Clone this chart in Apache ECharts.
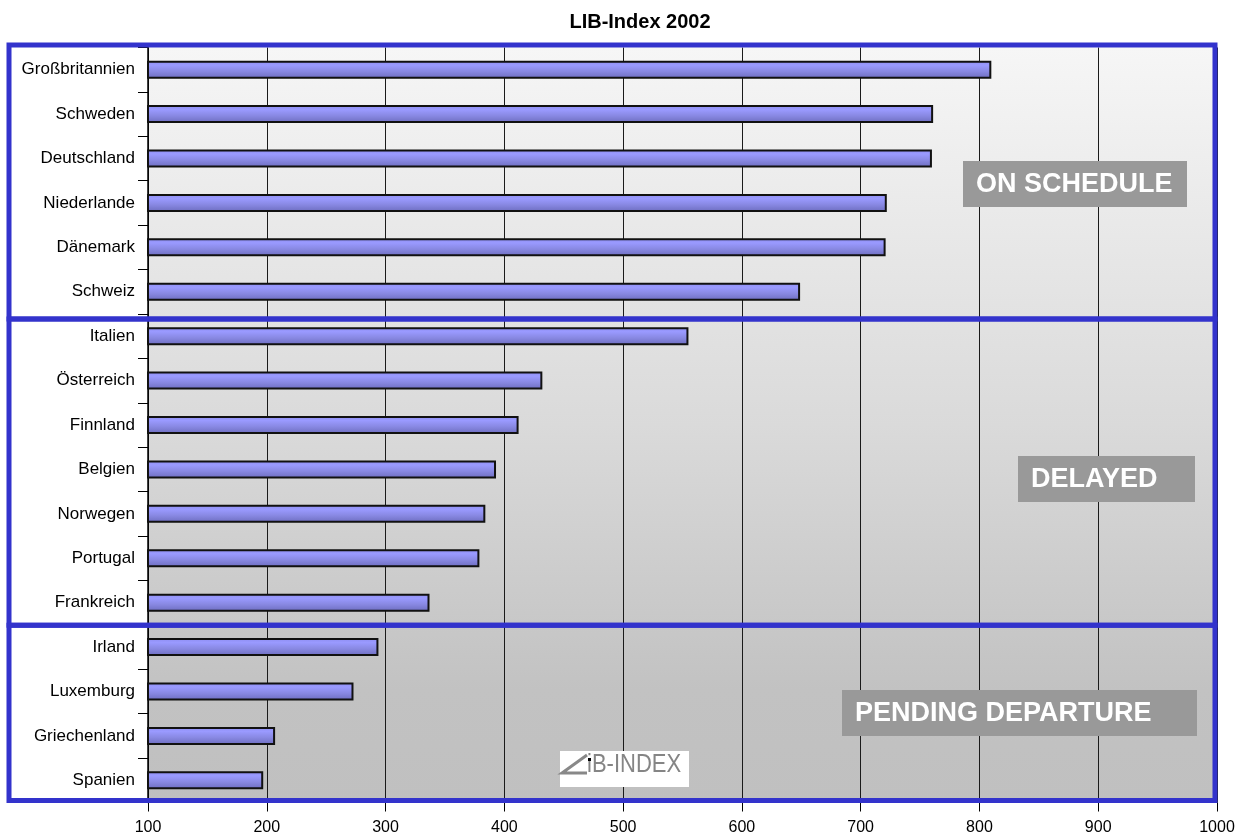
<!DOCTYPE html>
<html><head><meta charset="utf-8">
<script src="https://cdn.jsdelivr.net/npm/echarts@6/dist/echarts.min.js"></script>
<style>html,body{margin:0;padding:0;background:#fff}#c{width:1250px;height:839px}</style>
</head><body><div id="c"></div>
<script>
const categories = ['Großbritannien','Schweden','Deutschland','Niederlande','Dänemark','Schweiz','Italien','Österreich','Finnland','Belgien','Norwegen','Portugal','Frankreich','Irland','Luxemburg','Griechenland','Spanien'];
const libIndex = [810,761,760,722,721,649,555,432,412,393,384,379,337,294,273,207,197];
const groupLabels = ['ON SCHEDULE','DELAYED','PENDING DEPARTURE'];
const groupLastIndex = [5,12,16];
const axisMin = 100, axisMax = 1000, axisStep = 100;
const titleText = 'LIB-Index 2002';
const logoText = 'iB-INDEX';

const FONT = '"Liberation Sans", Arial, sans-serif';
const chart = echarts.init(document.getElementById('c'), null, {renderer:'canvas'});

const option = {
  animation: false,
  backgroundColor: '#ffffff',
  title: {
    text: titleText, left: 635, top: 7, textAlign: 'center',
    textStyle: {fontFamily: FONT, fontWeight: 'bold', fontSize: 20, color: '#000'}
  },
  grid: {
    left: 148, right: 33, top: 47.5, bottom: 36.5,
    containLabel: false, outerBoundsMode: 'none',
    show: true, borderWidth: 0,
    backgroundColor: new echarts.graphic.LinearGradient(0,0,0,1,[
      {offset:0, color:'#f6f6f6'},{offset:0.5, color:'#dadada'},{offset:0.85, color:'#c2c2c2'},{offset:1, color:'#c0c0c0'}])
  },
  xAxis: {
    type: 'value', min: axisMin, max: axisMax, interval: axisStep,
    axisLine: {show: true, lineStyle: {color: '#000', width: 1}},
    axisTick: {show: true, length: 9, lineStyle: {color: '#000'}},
    axisLabel: {fontFamily: FONT, fontSize: 16, color: '#000', margin: 17, hideOverlap: false,
      formatter: v => String(v)},
    splitLine: {show: true, lineStyle: {color: '#1a1a1a', width: 1}}
  },
  yAxis: {
    type: 'category', data: categories, inverse: true,
    axisLine: {show: true, lineStyle: {color: '#000', width: 1.5}},
    axisTick: {show: true, length: 10, alignWithLabel: false, lineStyle: {color: '#000'}},
    axisLabel: {fontFamily: FONT, fontSize: 17, color: '#000', margin: 13, interval: 0, hideOverlap: false},
    splitLine: {show: false}
  },
  series: [{
    type: 'bar', data: libIndex, barWidth: 18, z: 3,
    itemStyle: {
      borderColor: '#111', borderWidth: 2,
      color: new echarts.graphic.LinearGradient(0,0,0,1,[
        {offset:0, color:'#8e8ef0'},{offset:0.25, color:'#9a9aff'},{offset:0.6, color:'#8888e2'},{offset:1, color:'#6c6cbe'}])
    },
    emphasis: {disabled: true}
  }]
};
chart.setOption(option);

// decorations derived from the axes
const yc = i => chart.convertToPixel({yAxisIndex:0}, categories[i]);
const band = yc(1) - yc(0);
const xRight = chart.convertToPixel({xAxisIndex:0}, axisMax) - 2;
const xLeft = 9;
const tops = [yc(0) - band/2 - 2.5, yc(groupLastIndex[0]) + band/2 + 5, yc(groupLastIndex[1]) + band/2 + 0.5];
const bottoms = [tops[1], tops[2], yc(groupLastIndex[2]) + band/2 - 2];
const elements = [];
for (let g = 0; g < 3; g++) {
  elements.push({type:'rect', z: 100, shape:{x:xLeft, y:tops[g], width:xRight-xLeft, height:bottoms[g]-tops[g]},
    style:{fill:null, stroke:'#3333cc', lineWidth:5}});
}
const boxes = [
  {x:963, y:161, w:224, h:46},
  {x:1018, y:456, w:177, h:46},
  {x:842, y:690, w:355, h:46}
];
boxes.forEach((b, g) => {
  elements.push({type:'rect', z: 90, shape:{x:b.x, y:b.y, width:b.w, height:b.h}, style:{fill:'#999999'}});
  elements.push({type:'text', z: 91, x:b.x+13, y:b.y+b.h/2+1, style:{text:groupLabels[g], fill:'#ffffff',
    font:'bold 27px "Liberation Sans", Arial, sans-serif', textVerticalAlign:'middle', textAlign:'left'}});
});
// logo
elements.push({type:'rect', z: 80, shape:{x:560, y:751, width:129, height:36}, style:{fill:'#ffffff'}});
elements.push({type:'polyline', z: 81, shape:{points:[[587,755],[562,773],[587,773]]}, style:{stroke:'#888888', lineWidth:3, fill:null}});
elements.push({type:'rect', z: 82, shape:{x:588, y:758, width:3, height:3}, style:{fill:'#000'}});
elements.push({type:'text', z: 81, x:587, y:765, scaleX:0.88, originX:0, originY:0,
  style:{text:logoText, fill:'#858585', font:'25px "Liberation Sans", Arial, sans-serif', textVerticalAlign:'middle', textAlign:'left'}});
chart.setOption({graphic: {elements: elements}});
</script></body></html>
